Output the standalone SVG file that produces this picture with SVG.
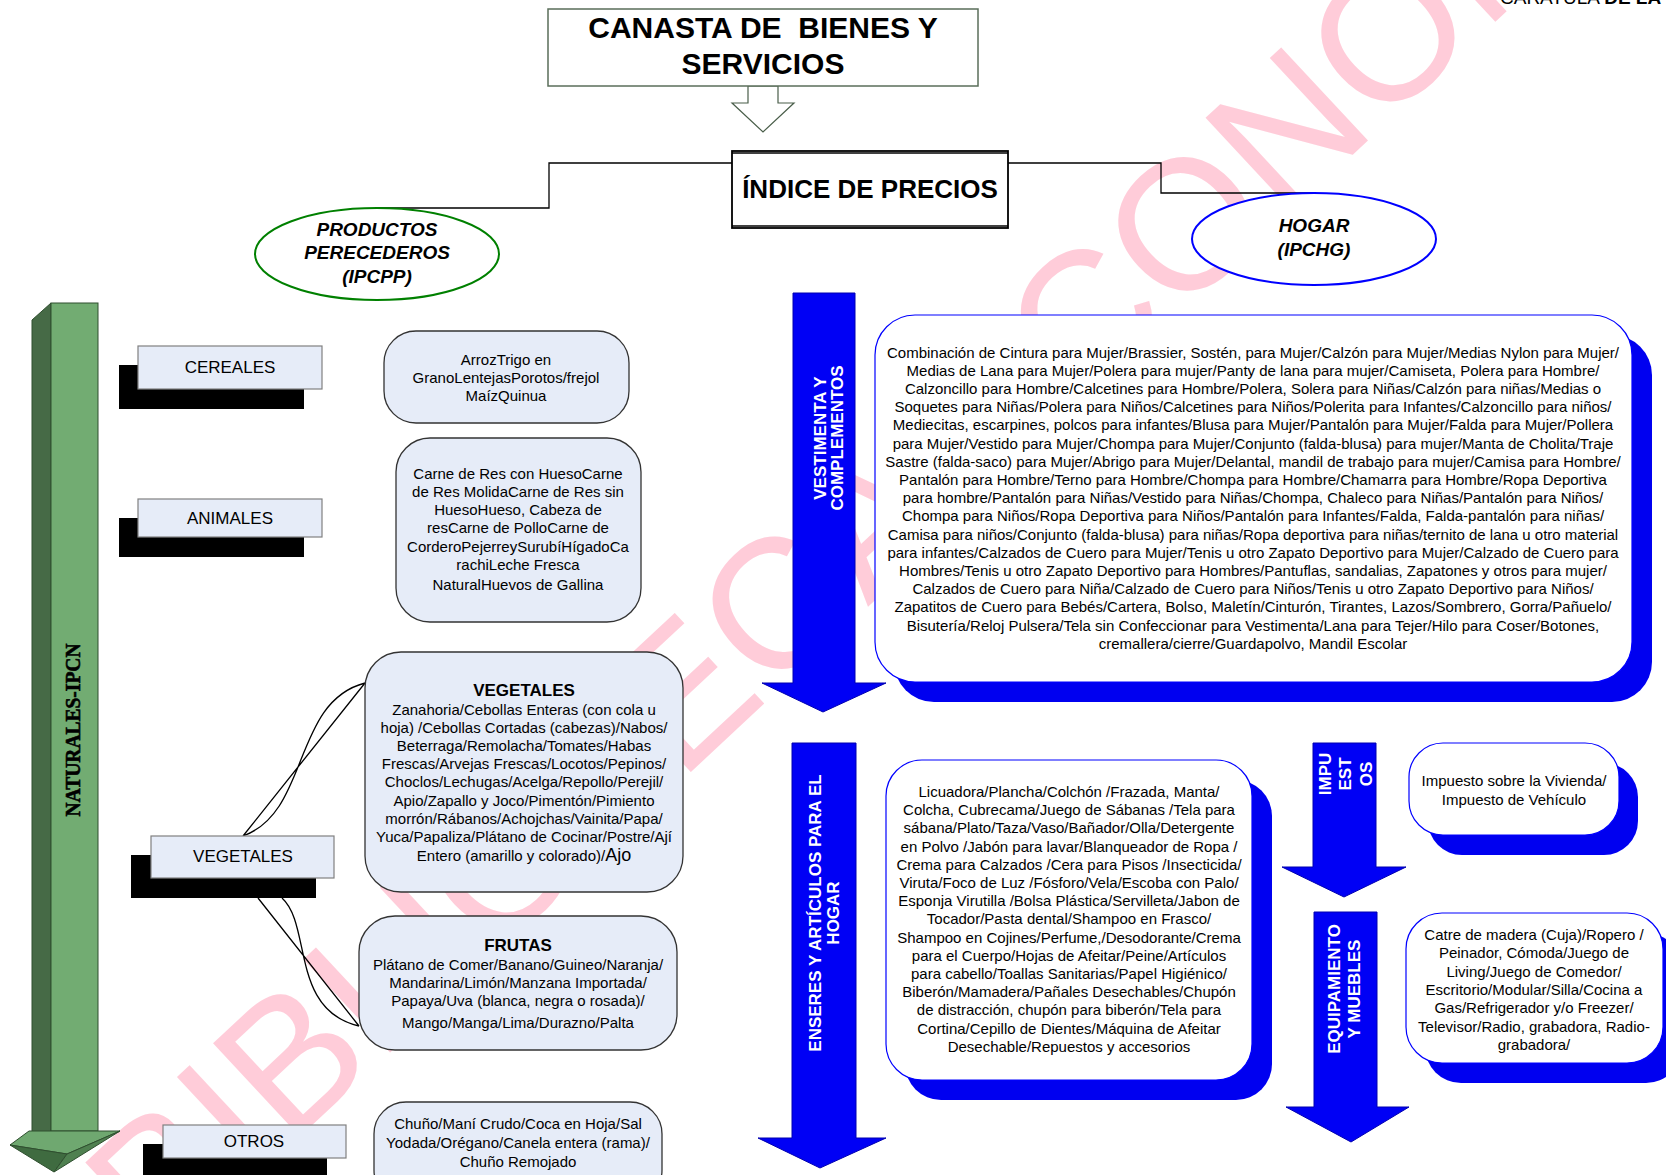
<svg xmlns="http://www.w3.org/2000/svg" width="1666" height="1175" viewBox="0 0 1666 1175">
<defs>
<style>
text{font-family:"Liberation Sans",Arial,sans-serif}
.c{text-anchor:middle;font-size:15px;fill:#000}
.cat{text-anchor:middle;font-size:17px;fill:#000}
.hd{text-anchor:middle;font-size:17px;font-weight:bold}
.vt{text-anchor:middle;font-size:17px;font-weight:bold;fill:#fff}
.ell{text-anchor:middle;font-size:19px;font-weight:bold;font-style:italic}
.box{fill:#e6ecf8;stroke:#333;stroke-width:1.3}
.catf{fill:#e6ecf8;stroke:#808080;stroke-width:1.2}
.shd{fill:#000}
.wbox{fill:#fff;stroke:#0000ff;stroke-width:1.2}
.bsh{fill:#0000f0}
.barrow{fill:#0000f5;stroke:#0000b0;stroke-width:1}
.conn{fill:none;stroke:#000;stroke-width:1.3}
</style>
</defs>
<rect width="1666" height="1175" fill="#fff"/>
<g id="watermark">
<text transform="translate(161,1266) rotate(-43)" font-size="185" fill="#ffccd9">BIBLIOTECA ECONOMIA</text>
</g>
<text x="1500" y="4" font-size="19">CARATULA <tspan font-weight="bold">DE LA</tspan></text>

<g id="connectors">
<path class="conn" d="M732,163 H549 V208 H377"/>
<path class="conn" d="M1008,163 H1161 V193 H1314"/>
<polygon points="748,86 778,86 778,103 794,103 763,132 732,103 748,103" fill="#fff" stroke="#4a5e4a" stroke-width="1.2"/>
<path class="conn" stroke-width="1" d="M243,836 L365,683 M243,836 C310,812 292,702 365,683"/>
<path class="conn" stroke-width="1" d="M258,898 L359,1026 M282,898 C312,925 290,1010 359,1026"/>
</g>

<g id="title">
<rect x="548" y="9" width="430" height="77" fill="#fff" stroke="#5a6e5a" stroke-width="1.5"/>
<text x="763" y="38" text-anchor="middle" font-size="30" font-weight="bold" xml:space="preserve">CANASTA DE  BIENES Y</text>
<text x="763" y="74" text-anchor="middle" font-size="30" font-weight="bold">SERVICIOS</text>
</g>

<g id="indice">
<rect x="732" y="151" width="276" height="77" fill="#fff" stroke="#000" stroke-width="1.8"/>
<line x1="732" y1="153" x2="1008" y2="153" stroke="#000" stroke-width="1.5"/>
<line x1="732" y1="226" x2="1008" y2="226" stroke="#000" stroke-width="1.5"/>
<text x="870" y="198" text-anchor="middle" font-size="26" font-weight="bold">ÍNDICE DE PRECIOS</text>
</g>

<g id="perecederos">
<ellipse cx="377" cy="254" rx="122" ry="46" fill="#fff" stroke="#008000" stroke-width="2"/>
<text class="ell" x="377" y="236">PRODUCTOS</text>
<text class="ell" x="377" y="259">PERECEDEROS</text>
<text class="ell" x="377" y="283">(IPCPP)</text>
</g>

<g id="hogar">
<ellipse cx="1314" cy="239" rx="122" ry="46" fill="#fff" stroke="#0000ff" stroke-width="2"/>
<text class="ell" x="1314" y="232">HOGAR</text>
<text class="ell" x="1314" y="256">(IPCHG)</text>
</g>

<g id="naturales">
<polygon points="32,320 51,303 51,1131 32,1141" fill="#466a46" stroke="#2f4f2f" stroke-width="1"/>
<rect x="51" y="303" width="47" height="828" fill="#72ac72" stroke="#2f4f2f" stroke-width="1"/>
<polygon points="10,1145 29,1131 120,1131 67,1154" fill="#6fa870" stroke="#2f4f2f" stroke-width="1"/>
<polygon points="10,1145 67,1154 54,1172" fill="#3f6b40" stroke="#2f4f2f" stroke-width="1"/>
<polygon points="67,1154 120,1131 54,1172" fill="#4f8050" stroke="#2f4f2f" stroke-width="1"/>
<text transform="translate(80,730) rotate(-90)" text-anchor="middle" font-weight="bold" font-size="21" textLength="173" lengthAdjust="spacingAndGlyphs" stroke="#000" stroke-width="0.6" style="font-family:'Liberation Serif',serif">NATURALES-IPCN</text>
</g>

<g id="cereales">
<rect class="shd" x="119" y="365" width="185" height="44"/>
<rect class="catf" x="138" y="346" width="184" height="43"/>
<text class="cat" x="230" y="373">CEREALES</text>
</g>
<g id="cereales-items">
<rect class="box" x="384" y="331" width="245" height="92" rx="32"/>
<text class="c" x="506" y="364.5">ArrozTrigo en</text>
<text class="c" x="506" y="382.5">GranoLentejasPorotos/frejol</text>
<text class="c" x="506" y="400.5">MaízQuinua</text>
</g>

<g id="animales">
<rect class="shd" x="119" y="518" width="185" height="39"/>
<rect class="catf" x="138" y="499" width="184" height="38"/>
<text class="cat" x="230" y="524">ANIMALES</text>
</g>
<g id="animales-items">
<rect class="box" x="396" y="438" width="245" height="184" rx="34"/>
<text class="c" x="518" y="478.5">Carne de Res con HuesoCarne</text>
<text class="c" x="518" y="496.8">de Res MolidaCarne de Res sin</text>
<text class="c" x="518" y="515.1">HuesoHueso, Cabeza de</text>
<text class="c" x="518" y="533.4">resCarne de PolloCarne de</text>
<text class="c" x="518" y="551.7">CorderoPejerreySurubíHígadoCa</text>
<text class="c" x="518" y="570">rachiLeche Fresca</text>
<text class="c" x="518" y="589.5">NaturalHuevos de Gallina</text>
</g>

<g id="vegetales">
<rect class="shd" x="131" y="855" width="185" height="43"/>
<rect class="catf" x="151" y="836" width="183" height="42"/>
<text class="cat" x="243" y="862">VEGETALES</text>
</g>
<g id="vegetales-items">
<rect class="box" x="365" y="652" width="318" height="240" rx="36"/>
<text class="hd" x="524" y="695.5">VEGETALES</text>
<text class="c" x="524" y="714.5">Zanahoria/Cebollas Enteras (con cola u</text>
<text class="c" x="524" y="732.7">hoja) /Cebollas Cortadas (cabezas)/Nabos/</text>
<text class="c" x="524" y="750.9">Beterraga/Remolacha/Tomates/Habas</text>
<text class="c" x="524" y="769.1">Frescas/Arvejas Frescas/Locotos/Pepinos/</text>
<text class="c" x="524" y="787.3">Choclos/Lechugas/Acelga/Repollo/Perejil/</text>
<text class="c" x="524" y="805.5">Apio/Zapallo y Joco/Pimentón/Pimiento</text>
<text class="c" x="524" y="823.7">morrón/Rábanos/Achojchas/Vainita/Papa/</text>
<text class="c" x="524" y="841.9">Yuca/Papaliza/Plátano de Cocinar/Postre/Ají</text>
<text class="c" x="524" y="860.5">Entero (amarillo y colorado)/<tspan font-size="18">Ajo</tspan></text>
</g>

<g id="frutas">
<rect class="box" x="359" y="916" width="318" height="134" rx="36"/>
<text class="hd" x="518" y="950.5">FRUTAS</text>
<text class="c" x="518" y="969.5">Plátano de Comer/Banano/Guineo/Naranja/</text>
<text class="c" x="518" y="987.5">Mandarina/Limón/Manzana Importada/</text>
<text class="c" x="518" y="1005.5">Papaya/Uva (blanca, negra o rosada)/</text>
<text class="c" x="518" y="1027.5">Mango/Manga/Lima/Durazno/Palta</text>
</g>

<g id="otros">
<rect class="shd" x="143" y="1144" width="184" height="40"/>
<rect class="catf" x="163" y="1125" width="183" height="33"/>
<text class="cat" x="254" y="1147">OTROS</text>
</g>
<g id="otros-items">
<rect class="box" x="374" y="1102" width="288" height="100" rx="32"/>
<text class="c" x="518" y="1128.5">Chuño/Maní Crudo/Coca en Hoja/Sal</text>
<text class="c" x="518" y="1147.5">Yodada/Orégano/Canela entera (rama)/</text>
<text class="c" x="518" y="1166.5">Chuño Remojado</text>
</g>

<g id="vestimenta">
<polygon class="barrow" points="793,293 855,293 855,683 886,683 823,712 762,683 793,683"/>
<text class="vt" transform="translate(826,438) rotate(-90)"><tspan x="0" y="0">VESTIMENTA Y</tspan><tspan x="0" y="17">COMPLEMENTOS</tspan></text>
</g>
<g id="vestimenta-items">
<rect class="bsh" x="894" y="335" width="758" height="367" rx="40"/>
<rect class="wbox" x="875" y="315" width="757" height="367" rx="40"/>
<text class="c" x="1253" y="357.5">Combinación de Cintura para Mujer/Brassier, Sostén, para Mujer/Calzón para Mujer/Medias Nylon para Mujer/</text>
<text class="c" x="1253" y="375.7">Medias de Lana para Mujer/Polera para mujer/Panty de lana para mujer/Camiseta, Polera para Hombre/</text>
<text class="c" x="1253" y="393.9">Calzoncillo para Hombre/Calcetines para Hombre/Polera, Solera para Niñas/Calzón para niñas/Medias o</text>
<text class="c" x="1253" y="412.1">Soquetes para Niñas/Polera para Niños/Calcetines para Niños/Polerita para Infantes/Calzoncillo para niños/</text>
<text class="c" x="1253" y="430.3">Mediecitas, escarpines, polcos para infantes/Blusa para Mujer/Pantalón para Mujer/Falda para Mujer/Pollera</text>
<text class="c" x="1253" y="448.5">para Mujer/Vestido para Mujer/Chompa para Mujer/Conjunto (falda-blusa) para mujer/Manta de Cholita/Traje</text>
<text class="c" x="1253" y="466.7">Sastre (falda-saco) para Mujer/Abrigo para Mujer/Delantal, mandil de trabajo para mujer/Camisa para Hombre/</text>
<text class="c" x="1253" y="484.9">Pantalón para Hombre/Terno para Hombre/Chompa para Hombre/Chamarra para Hombre/Ropa Deportiva</text>
<text class="c" x="1253" y="503.1">para hombre/Pantalón para Niñas/Vestido para Niñas/Chompa, Chaleco para Niñas/Pantalón para Niños/</text>
<text class="c" x="1253" y="521.3">Chompa para Niños/Ropa Deportiva para Niños/Pantalón para Infantes/Falda, Falda-pantalón para niñas/</text>
<text class="c" x="1253" y="539.5">Camisa para niños/Conjunto (falda-blusa) para niñas/Ropa deportiva para niñas/ternito de lana u otro material</text>
<text class="c" x="1253" y="557.7">para infantes/Calzados de Cuero para Mujer/Tenis u otro Zapato Deportivo para Mujer/Calzado de Cuero para</text>
<text class="c" x="1253" y="575.9">Hombres/Tenis u otro Zapato Deportivo para Hombres/Pantuflas, sandalias, Zapatones y otros para mujer/</text>
<text class="c" x="1253" y="594.1">Calzados de Cuero para Niña/Calzado de Cuero para Niños/Tenis u otro Zapato Deportivo para Niños/</text>
<text class="c" x="1253" y="612.3">Zapatitos de Cuero para Bebés/Cartera, Bolso, Maletín/Cinturón, Tirantes, Lazos/Sombrero, Gorra/Pañuelo/</text>
<text class="c" x="1253" y="630.5">Bisutería/Reloj Pulsera/Tela sin Confeccionar para Vestimenta/Lana para Tejer/Hilo para Coser/Botones,</text>
<text class="c" x="1253" y="648.7">cremallera/cierre/Guardapolvo, Mandil Escolar</text>
</g>

<g id="enseres">
<polygon class="barrow" points="792,743 856,743 856,1138 886,1138 820,1168 758,1138 792,1138"/>
<text class="vt" transform="translate(821,913) rotate(-90)"><tspan x="0" y="0">ENSERES Y ARTÍCULOS PARA EL</tspan><tspan x="0" y="18">HOGAR</tspan></text>
</g>
<g id="enseres-items">
<rect class="bsh" x="905" y="780" width="367" height="320" rx="36"/>
<rect class="wbox" x="886" y="760" width="366" height="320" rx="36"/>
<text class="c" x="1069" y="797">Licuadora/Plancha/Colchón /Frazada, Manta/</text>
<text class="c" x="1069" y="815.2">Colcha, Cubrecama/Juego de Sábanas /Tela para</text>
<text class="c" x="1069" y="833.4">sábana/Plato/Taza/Vaso/Bañador/Olla/Detergente</text>
<text class="c" x="1069" y="851.6">en Polvo /Jabón para lavar/Blanqueador de Ropa /</text>
<text class="c" x="1069" y="869.8">Crema para Calzados /Cera para Pisos /Insecticida/</text>
<text class="c" x="1069" y="888">Viruta/Foco de Luz /Fósforo/Vela/Escoba con Palo/</text>
<text class="c" x="1069" y="906.2">Esponja Virutilla /Bolsa Plástica/Servilleta/Jabon de</text>
<text class="c" x="1069" y="924.4">Tocador/Pasta dental/Shampoo en Frasco/</text>
<text class="c" x="1069" y="942.6">Shampoo en Cojines/Perfume,/Desodorante/Crema</text>
<text class="c" x="1069" y="960.8">para el Cuerpo/Hojas de Afeitar/Peine/Artículos</text>
<text class="c" x="1069" y="979">para cabello/Toallas Sanitarias/Papel Higiénico/</text>
<text class="c" x="1069" y="997.2">Biberón/Mamadera/Pañales Desechables/Chupón</text>
<text class="c" x="1069" y="1015.4">de distracción, chupón para biberón/Tela para</text>
<text class="c" x="1069" y="1033.6">Cortina/Cepillo de Dientes/Máquina de Afeitar</text>
<text class="c" x="1069" y="1052">Desechable/Repuestos y accesorios</text>
</g>

<g id="impuestos">
<polygon class="barrow" points="1313,743 1376,743 1376,867 1406,867 1344,897 1282,867 1313,867"/>
<text class="vt" transform="translate(1331,774) rotate(-90)"><tspan x="0" y="0">IMPU</tspan><tspan x="0" y="20">EST</tspan><tspan x="0" y="41">OS</tspan></text>
</g>
<g id="impuestos-items">
<rect class="bsh" x="1428" y="763" width="210" height="92" rx="34"/>
<rect class="wbox" x="1409" y="743" width="210" height="92" rx="34"/>
<text class="c" x="1514" y="786">Impuesto sobre la Vivienda/</text>
<text class="c" x="1514" y="805">Impuesto de Vehículo</text>
</g>

<g id="equipamiento">
<polygon class="barrow" points="1314,912 1377,912 1377,1107 1409,1107 1351,1142 1286,1107 1314,1107"/>
<text class="vt" transform="translate(1340,989) rotate(-90)"><tspan x="0" y="0">EQUIPAMIENTO</tspan><tspan x="0" y="20">Y MUEBLES</tspan></text>
</g>
<g id="equipamiento-items">
<rect class="bsh" x="1425" y="933" width="257" height="150" rx="36"/>
<rect class="wbox" x="1406" y="913" width="257" height="150" rx="36"/>
<text class="c" x="1534" y="940">Catre de madera (Cuja)/Ropero /</text>
<text class="c" x="1534" y="958.3">Peinador, Cómoda/Juego de</text>
<text class="c" x="1534" y="976.6">Living/Juego de Comedor/</text>
<text class="c" x="1534" y="994.9">Escritorio/Modular/Silla/Cocina a</text>
<text class="c" x="1534" y="1013.2">Gas/Refrigerador y/o Freezer/</text>
<text class="c" x="1534" y="1031.5">Televisor/Radio, grabadora, Radio-</text>
<text class="c" x="1534" y="1049.8">grabadora/</text>
</g>
</svg>
